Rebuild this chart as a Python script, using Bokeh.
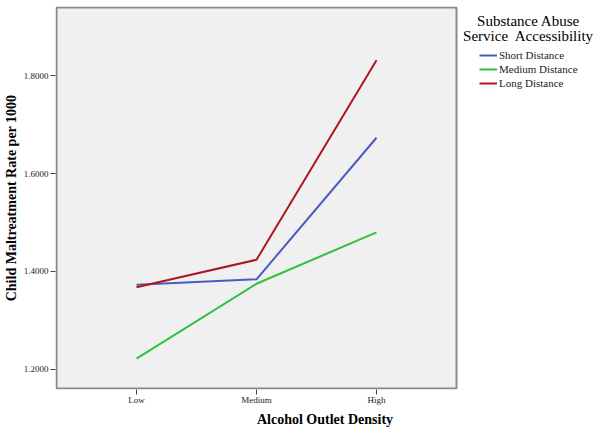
from bokeh.plotting import figure
from bokeh.models import (Range1d, Legend, LegendItem, Label, FixedTicker,
                          CustomJSTickFormatter, BoxAnnotation)
from bokeh.embed import file_html
from bokeh.resources import INLINE

categories = ["Low", "Medium", "High"]
short_distance = [1.373, 1.384, 1.673]
medium_distance = [1.222, 1.375, 1.480]
long_distance = [1.368, 1.424, 1.831]
y_ticks = [1.2, 1.4, 1.6, 1.8]
series_names = ["Short Distance", "Medium Distance", "Long Distance"]
series_colors = ["#4a5cbf", "#2ec23c", "#ad1820"]
legend_title = ["Substance Abuse", "Service\u00a0 Accessibility"]

xs = list(range(len(categories)))

p = figure(width=594, height=431, output_backend="svg", toolbar_location=None,
           x_range=Range1d(-0.675, 3.8167), y_range=Range1d(1.15918, 1.94082),
           min_border_left=55, min_border_right=0, min_border_top=6, min_border_bottom=42)
p.background_fill_color = "white"
p.border_fill_color = "white"
p.outline_line_color = None
p.xgrid.visible = False
p.ygrid.visible = False

# plot area (grey panel with border)
p.add_layout(BoxAnnotation(left=-0.6667, right=2.6667, bottom=1.1612, top=1.9388,
                           fill_color="#f0f0f0", fill_alpha=1.0,
                           line_color="#8a8a8a", line_alpha=1.0, line_width=2,
                           level="underlay"))

serif = "Liberation Serif"

p.xaxis.ticker = FixedTicker(ticks=xs)
p.xaxis.formatter = CustomJSTickFormatter(args=dict(labels=categories),
                                          code="return labels[Math.round(tick)] || '';")
p.yaxis.ticker = FixedTicker(ticks=y_ticks)
p.yaxis.formatter = CustomJSTickFormatter(code="return tick.toFixed(4);")

for ax in (p.xaxis, p.yaxis):
    ax.axis_line_color = None
    ax.major_tick_line_color = "#444444"
    ax.major_tick_in = 0
    ax.major_tick_out = 5
    ax.minor_tick_line_color = None
    ax.major_label_text_font = serif
    ax.major_label_text_font_size = "9px"
    ax.major_label_text_color = "#222222"
    ax.major_label_standoff = 2
    ax.axis_label_text_font = serif
    ax.axis_label_text_font_style = "bold"
    ax.axis_label_text_font_size = "14px"
    ax.axis_label_text_color = "black"
    ax.axis_label_standoff = 4

p.xaxis.major_label_standoff = 0
p.xaxis.axis_label = "Alcohol Outlet Density"
p.yaxis.axis_label = "Child Maltreatment Rate per 1000"
p.yaxis.axis_label_standoff = 2

renderers = []
for vals, col in zip([short_distance, medium_distance, long_distance], series_colors):
    r = p.line(xs, vals, line_color=col, line_width=2)
    renderers.append(r)

legend = Legend(items=[LegendItem(label=n, renderers=[r]) for n, r in zip(series_names, renderers)],
                location=(424, 299), padding=0, margin=0, spacing=0,
                glyph_width=18, glyph_height=14, label_height=14, label_standoff=2,
                label_text_font=serif, label_text_font_size="11px", label_text_color="#222222",
                border_line_color=None, background_fill_alpha=0)
p.add_layout(legend, "center")

for txt, yv in zip(legend_title, [1.9122, 1.8816]):
    p.add_layout(Label(x=3.2667, y=yv, text=txt, text_font=serif,
                       text_font_size="15px", text_align="center", text_baseline="middle",
                       text_color="black"))

open("out.html", "w").write(file_html(p, INLINE))
